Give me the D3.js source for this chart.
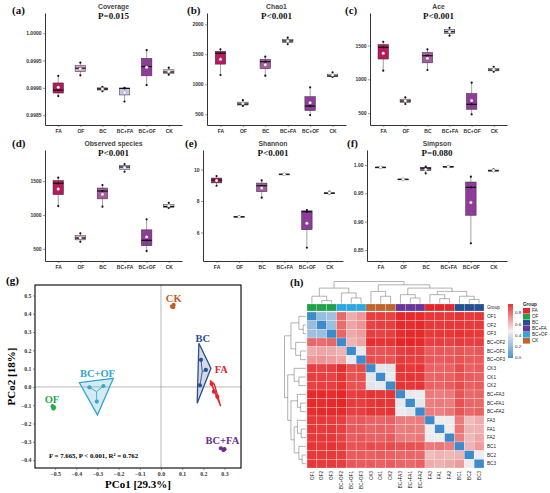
<!DOCTYPE html>
<html>
<head>
<meta charset="utf-8">
<script src="https://cdn.jsdelivr.net/npm/d3@7"></script>
<style>
body { margin: 0; background: #fff; }
</style>
</head>
<body>
<svg id="fig" width="550" height="493"></svg>
<script>
// ---- alpha diversity (three replicates per treatment, same order as groups)
var groups = ['FA', 'OF', 'BC', 'BC+FA', 'BC+OF', 'CK'];
var boxColors = ['#b8185c', '#d7a3cf', '#a65ba0', '#c9c4e6', '#8e3b99', '#e3c1dc'];

var coverage = [[0.99885, 0.99896, 0.99922], [0.99923, 0.99936, 0.99946], [0.99894, 0.99898, 0.99902],
                [0.99875, 0.99899, 0.99900], [0.99905, 0.99939, 0.99969], [0.99924, 0.99929, 0.99937]];
var chao1    = [[1155, 1517, 1583], [640, 670, 735], [1143, 1377, 1460],
                [1667, 1722, 1777], [488, 638, 950], [1122, 1138, 1200]];
var ace      = [[1127, 1473, 1556], [635, 679, 734], [1138, 1349, 1444],
                [1645, 1704, 1763], [482, 630, 950], [1112, 1138, 1186]];
var observed = [[1133, 1469, 1552], [605, 660, 729], [1123, 1355, 1444],
                [1640, 1710, 1754], [467, 626, 936], [1105, 1126, 1180]];
var shannon  = [[8.97, 9.33, 9.59], [6.97, 7.00, 7.04], [8.21, 8.97, 9.31],
                [9.68, 9.70, 9.72], [5.03, 7.32, 7.43], [8.47, 8.49, 8.60]];
var simpson  = [[0.9955, 0.9960, 0.9965], [0.9740, 0.9748, 0.9755], [0.9853, 0.9945, 0.9970],
                [0.9965, 0.9970, 0.9975], [0.8618, 0.9606, 0.9794], [0.9890, 0.9898, 0.9925]];

// ---- PCoA
var pcoGroups = ['CK', 'BC', 'FA', 'BC+OF', 'OF', 'BC+FA'];
var pcoColors = ['#c65c27', '#2c4f8b', '#e0282c', '#37a6cc', '#2ca84e', '#6b2d8f'];
var pcoPoints = [
  [[0.052, 0.440], [0.060, 0.448], [0.057, 0.436]],
  [[0.189, 0.148], [0.212, 0.093], [0.184, 0.009]],
  [[0.239, 0.016], [0.250, -0.026], [0.266, -0.053]],
  [[-0.338, -0.002], [-0.272, 0.005], [-0.303, -0.080]],
  [[-0.512, -0.105], [-0.508, -0.118], [-0.505, -0.112]],
  [[0.283, -0.335], [0.295, -0.345], [0.300, -0.340]]
];
var pcoHulls = [
  null,
  [[0.179, 0.239], [0.236, 0.102], [0.171, -0.089]],
  [[0.232, 0.035], [0.252, 0.015], [0.282, -0.105]],
  [[-0.385, 0.023], [-0.225, 0.047], [-0.300, -0.153]],
  null,
  null
];
var pcoXTicks = [-0.5, -0.4, -0.3, -0.2, -0.1, 0.0, 0.1, 0.2, 0.3];
var pcoYTicks = [-0.4, -0.3, -0.2, -0.1, 0.0, 0.1, 0.2, 0.3, 0.4, 0.5];
var pcoStats = 'F = 7.665, P < 0.001, R\u00b2 = 0.762';

// ---- Bray-Curtis heatmap (lower triangle, same order as hmLabels)
var hmLabels = ['OF1', 'OF2', 'OF3', 'BC+OF2', 'BC+OF1', 'BC+OF3', 'CK3', 'CK1', 'CK2',
                'BC+FA3', 'BC+FA1', 'BC+FA2', 'FA3', 'FA1', 'FA2', 'BC1', 'BC2', 'BC3'];
var hmLower = [
  [],
  [0.24],
  [0.26, 0.25],
  [0.80, 0.79, 0.81],
  [0.64, 0.66, 0.65, 0.62],
  [0.69, 0.70, 0.68, 0.66, 0.45],
  [0.90, 0.89, 0.90, 0.94, 0.86, 0.87],
  [0.90, 0.90, 0.89, 0.93, 0.85, 0.86, 0.44],
  [0.89, 0.90, 0.90, 0.93, 0.86, 0.85, 0.43, 0.45],
  [0.95, 0.95, 0.94, 0.96, 0.90, 0.91, 0.93, 0.92, 0.93],
  [0.95, 0.94, 0.95, 0.96, 0.91, 0.90, 0.92, 0.93, 0.92, 0.45],
  [0.94, 0.95, 0.95, 0.95, 0.90, 0.90, 0.93, 0.92, 0.93, 0.46, 0.44],
  [0.92, 0.92, 0.91, 0.90, 0.83, 0.84, 0.82, 0.81, 0.82, 0.76, 0.75, 0.76],
  [0.92, 0.91, 0.92, 0.90, 0.84, 0.83, 0.81, 0.82, 0.81, 0.75, 0.76, 0.75, 0.47],
  [0.91, 0.92, 0.92, 0.89, 0.83, 0.84, 0.82, 0.82, 0.83, 0.76, 0.75, 0.77, 0.46, 0.47],
  [0.93, 0.92, 0.93, 0.91, 0.85, 0.85, 0.87, 0.86, 0.87, 0.85, 0.86, 0.85, 0.76, 0.77, 0.75],
  [0.91, 0.91, 0.92, 0.90, 0.83, 0.83, 0.82, 0.83, 0.82, 0.80, 0.81, 0.80, 0.60, 0.62, 0.61, 0.62],
  [0.92, 0.91, 0.91, 0.90, 0.84, 0.83, 0.83, 0.82, 0.83, 0.81, 0.80, 0.82, 0.64, 0.63, 0.65, 0.68, 0.47]
];
// cluster tree: [height, left, right]
var hmTree = [1.0,
  [0.70, [0.33, 'OF1', [0.13, 'OF2', 'OF3']], [0.48, 'BC+OF2', [0.25, 'BC+OF1', 'BC+OF3']]],
  [0.85, [0.55, 'CK3', [0.33, 'CK1', 'CK2']],
         [0.70, [0.40, 'BC+FA3', [0.25, 'BC+FA1', 'BC+FA2']],
                [0.55, [0.40, 'FA3', [0.22, 'FA1', 'FA2']], [0.33, 'BC1', [0.18, 'BC2', 'BC3']]]]]];
var legendGroups = ['FA', 'OF', 'BC', 'BC+FA', 'BC+OF', 'CK'];
var legendColors = ['#e2262b', '#1fa24a', '#284f8f', '#6b3497', '#2aa9df', '#c0632c'];
var legendTicks = [0.0, 0.2, 0.4, 0.6, 0.8];

var SANS = 'Liberation Sans, Arial, sans-serif';
var SERIF = 'Liberation Serif, Times New Roman, serif';
var svg = d3.select('#fig');

// ================= boxplot panels =================
var panels = [
  { tag: '(a)', tagX: 12, tagY: 14, name: 'Coverage', p: 'P=0.015', vals: coverage,
    dom: [0.99832, 1.00037], ticks: [0.9985, 0.999, 0.9995, 1.0], fmt: '.4f', x0: 45, x1: 182, top: 13, bot: 125 },
  { tag: '(b)', tagX: 187, tagY: 14, name: 'Chao1', p: 'P<0.001', vals: chao1,
    dom: [322, 2188], ticks: [500, 1000, 1500, 2000], fmt: 'd', x0: 207, x1: 346, top: 13, bot: 125 },
  { tag: '(c)', tagX: 345, tagY: 14, name: 'Ace', p: 'P<0.001', vals: ace,
    dom: [324, 1981], ticks: [500, 1000, 1500], fmt: 'd', x0: 370, x1: 507, top: 13, bot: 125 },
  { tag: '(d)', tagX: 12, tagY: 147, name: 'Observed species', p: 'P<0.001', vals: observed,
    dom: [320, 1962], ticks: [500, 1000, 1500], fmt: 'd', x0: 45, x1: 182, top: 150, bot: 261 },
  { tag: '(e)', tagX: 185, tagY: 147, name: 'Shannon', p: 'P<0.001', vals: shannon,
    dom: [4.19, 11.24], ticks: [6, 8, 10], fmt: 'd', x0: 203, x1: 343, top: 150, bot: 261 },
  { tag: '(f)', tagX: 347, tagY: 147, name: 'Simpson', p: 'P=0.080', vals: simpson,
    dom: [0.8306, 1.0265], ticks: [0.85, 0.9, 0.95, 1.0], fmt: '.2f', x0: 367, x1: 507, top: 150, bot: 261 }
];

function styleAxis(ax, size, family) {
  ax.select('.domain').attr('stroke', '#000').attr('stroke-width', 0.8);
  ax.selectAll('.tick line').attr('stroke', '#333').attr('stroke-width', 0.5);
  ax.selectAll('.tick text').attr('font-size', size).attr('font-family', family)
    .attr('font-weight', 'bold').attr('fill', '#333');
}

panels.forEach(function (p) {
  var g = svg.append('g');
  var x = d3.scalePoint().domain(groups).range([p.x0, p.x1]).padding(0.6);
  var y = d3.scaleLinear().domain(p.dom).range([p.bot, p.top]);

  var ay = g.append('g').attr('transform', 'translate(' + p.x0 + ',0)')
    .call(d3.axisLeft(y).tickValues(p.ticks).tickFormat(d3.format(p.fmt)).tickSize(2).tickSizeOuter(0).tickPadding(1.5));
  styleAxis(ay, 5, SANS);
  var ax = g.append('g').attr('transform', 'translate(0,' + p.bot + ')')
    .call(d3.axisBottom(x).tickSize(2).tickSizeOuter(0).tickPadding(2));
  styleAxis(ax, 5, SANS);

  p.vals.forEach(function (v, i) {
    var s = v.slice().sort(d3.ascending);
    var q1 = d3.quantile(s, 0.25), md = d3.quantile(s, 0.5), q3 = d3.quantile(s, 0.75);
    var mn = d3.mean(s);
    var cx = x(groups[i]), w = 10.5;
    g.append('line').attr('x1', cx).attr('x2', cx).attr('y1', y(s[0])).attr('y2', y(s[s.length - 1]))
      .attr('stroke', '#777').attr('stroke-width', 0.7);
    g.append('rect').attr('x', cx - w / 2).attr('width', w)
      .attr('y', y(q3)).attr('height', Math.max(0.8, y(q1) - y(q3)))
      .attr('fill', boxColors[i]).attr('stroke', '#333').attr('stroke-width', 0.5);
    g.append('line').attr('x1', cx - w / 2).attr('x2', cx + w / 2).attr('y1', y(md)).attr('y2', y(md))
      .attr('stroke', '#111').attr('stroke-width', 1.2);
    s.forEach(function (d) {
      g.append('circle').attr('cx', cx).attr('cy', y(d)).attr('r', 1.1).attr('fill', '#111');
    });
    g.append('circle').attr('cx', cx).attr('cy', y(mn)).attr('r', 1.5)
      .attr('fill', '#fff').attr('stroke', '#888').attr('stroke-width', 0.3);
  });

  var mid = (p.x0 + p.x1) / 2;
  g.append('text').attr('x', mid).attr('y', p.top - 4).attr('text-anchor', 'middle')
    .attr('font-family', SANS).attr('font-weight', 'bold').attr('font-size', 6.8).attr('fill', '#444').text(p.name);
  g.append('text').attr('x', mid).attr('y', p.top + 6).attr('text-anchor', 'middle')
    .attr('font-family', SERIF).attr('font-weight', 'bold').attr('font-size', 9).attr('fill', '#111').text(p.p);
  g.append('text').attr('x', p.tagX).attr('y', p.tagY)
    .attr('font-family', SERIF).attr('font-weight', 'bold').attr('font-size', 11).attr('fill', '#111').text(p.tag);
});

// ================= PCoA =================
(function () {
  var L = 35, R = 241, T = 285, B = 468;
  var g = svg.append('g');
  var x = d3.scaleLinear().domain([-0.595, 0.378]).range([L, R]);
  var y = d3.scaleLinear().domain([-0.443, 0.557]).range([B, T]);

  g.append('line').attr('x1', x(0)).attr('x2', x(0)).attr('y1', T).attr('y2', B).attr('stroke', '#888').attr('stroke-width', 0.6);
  g.append('line').attr('x1', L).attr('x2', R).attr('y1', y(0)).attr('y2', y(0)).attr('stroke', '#888').attr('stroke-width', 0.6);

  pcoGroups.forEach(function (name, i) {
    var col = pcoColors[i], pts = pcoPoints[i];
    if (pcoHulls[i]) {
      g.append('path').attr('d', d3.line().x(function (d) { return x(d[0]); }).y(function (d) { return y(d[1]); })(pcoHulls[i]) + 'Z')
        .attr('fill', col).attr('fill-opacity', 0.22).attr('stroke', col).attr('stroke-width', 1.3)
        .attr('stroke-linejoin', 'miter');
    }
    var c = [d3.mean(pts, function (d) { return d[0]; }), d3.mean(pts, function (d) { return d[1]; })];
    pts.forEach(function (d) {
      g.append('line').attr('x1', x(c[0])).attr('y1', y(c[1])).attr('x2', x(d[0])).attr('y2', y(d[1]))
        .attr('stroke', col).attr('stroke-width', 0.9);
    });
    pts.forEach(function (d) {
      g.append('circle').attr('cx', x(d[0])).attr('cy', y(d[1])).attr('r', 2.1).attr('fill', col);
    });
  });

  // group labels
  var labelAt = [[0.060, 0.485], [0.197, 0.265], [0.285, 0.095], [-0.300, 0.072], [-0.515, -0.065], [0.290, -0.292]];
  pcoGroups.forEach(function (name, i) {
    g.append('text').attr('x', x(labelAt[i][0])).attr('y', y(labelAt[i][1])).attr('dy', '0.35em')
      .attr('text-anchor', 'middle').attr('font-family', SERIF).attr('font-weight', 'bold')
      .attr('font-size', 10.5).attr('fill', pcoColors[i]).text(name);
  });

  g.append('rect').attr('x', L).attr('y', T).attr('width', R - L).attr('height', B - T)
    .attr('fill', 'none').attr('stroke', '#000').attr('stroke-width', 1.1);

  var ax = g.append('g').attr('transform', 'translate(0,' + B + ')')
    .call(d3.axisBottom(x).tickValues(pcoXTicks).tickFormat(d3.format('.1f')).tickSize(2).tickSizeOuter(0).tickPadding(1.5));
  styleAxis(ax, 5.8, SERIF);
  ax.select('.domain').remove();
  var ay = g.append('g').attr('transform', 'translate(' + L + ',0)')
    .call(d3.axisLeft(y).tickValues(pcoYTicks).tickFormat(d3.format('.1f')).tickSize(2).tickSizeOuter(0).tickPadding(1.5));
  styleAxis(ay, 5.8, SERIF);
  ay.select('.domain').remove();

  g.append('text').attr('x', (L + R) / 2).attr('y', 488).attr('text-anchor', 'middle')
    .attr('font-family', SERIF).attr('font-weight', 'bold').attr('font-size', 11).text('PCo1 [29.3%]');
  g.append('text').attr('transform', 'translate(15,' + ((T + B) / 2) + ') rotate(-90)').attr('text-anchor', 'middle')
    .attr('font-family', SERIF).attr('font-weight', 'bold').attr('font-size', 11).text('PCo2 [18%]');
  g.append('text').attr('x', 49).attr('y', 458).attr('font-family', SERIF).attr('font-weight', 'bold')
    .attr('font-size', 6.8).text(pcoStats);
  g.append('text').attr('x', 6).attr('y', 284).attr('font-family', SERIF).attr('font-weight', 'bold')
    .attr('font-size', 11).text('(g)');
})();

// ================= heatmap =================
(function () {
  var L = 307, R = 484, T = 312, B = 468;
  var g = svg.append('g');
  var n = hmLabels.length;
  var dist = hmLabels.map(function (a, i) {
    return hmLabels.map(function (b, j) {
      if (i === j) return 0;
      return i > j ? hmLower[i][j] : hmLower[j][i];
    });
  });
  var xb = d3.scaleBand().domain(hmLabels).range([L, R]);
  var yb = d3.scaleBand().domain(hmLabels).range([T, B]);
  var color = d3.scaleLinear().domain([0, 0.48, 0.96]).range(['#3d8bcb', '#f2efef', '#e52628']);
  var groupOf = function (lab) { return lab.replace(/\d$/, ''); };

  dist.forEach(function (row, i) {
    row.forEach(function (v, j) {
      g.append('rect').attr('x', xb(hmLabels[j])).attr('y', yb(hmLabels[i]))
        .attr('width', xb.bandwidth()).attr('height', yb.bandwidth())
        .attr('fill', color(v)).attr('stroke', 'rgba(255,255,255,0.45)').attr('stroke-width', 0.5);
    });
  });

  // group annotation bar
  hmLabels.forEach(function (lab) {
    g.append('rect').attr('x', xb(lab)).attr('y', 304).attr('width', xb.bandwidth()).attr('height', 7)
      .attr('fill', legendColors[legendGroups.indexOf(groupOf(lab))])
      .attr('stroke', 'rgba(255,255,255,0.5)').attr('stroke-width', 0.4);
  });
  g.append('text').attr('x', R + 3).attr('y', 307.5).attr('dy', '0.35em').attr('font-family', SANS)
    .attr('font-size', 4.6).attr('fill', '#222').text('Group');

  // row / column labels
  hmLabels.forEach(function (lab) {
    g.append('text').attr('x', R + 3).attr('y', yb(lab) + yb.bandwidth() / 2).attr('dy', '0.35em')
      .attr('font-family', SANS).attr('font-size', 4.6).attr('fill', '#222').text(lab);
    var cx = xb(lab) + xb.bandwidth() / 2;
    g.append('text').attr('transform', 'translate(' + cx + ',' + (B + 3) + ') rotate(-90)')
      .attr('text-anchor', 'end').attr('dy', '0.35em')
      .attr('font-family', SANS).attr('font-size', 4.6).attr('fill', '#222').text(lab);
  });

  // dendrograms
  var idx = {};
  hmLabels.forEach(function (l, i) { idx[l] = i; });
  var pos = d3.scaleLinear().domain([-0.5, n - 0.5]);
  var topH = d3.scaleLinear().domain([0, 1]).range([303.5, 281.5]);
  var leftH = d3.scaleLinear().domain([0, 1]).range([306, 284.5]);
  var colPos = pos.copy().range([L, R]), rowPos = pos.copy().range([T, B]);
  function walk(node, draw) {
    if (typeof node === 'string') return { p: idx[node], h: 0 };
    var a = walk(node[1], draw), b = walk(node[2], draw);
    draw(a, b, node[0]);
    return { p: (a.p + b.p) / 2, h: node[0] };
  }
  walk(hmTree, function (a, b, h) {
    g.append('path').attr('d', 'M' + colPos(a.p) + ',' + topH(a.h) + 'V' + topH(h) + 'H' + colPos(b.p) + 'V' + topH(b.h))
      .attr('fill', 'none').attr('stroke', '#555').attr('stroke-width', 0.45);
  });
  walk(hmTree, function (a, b, h) {
    g.append('path').attr('d', 'M' + leftH(a.h) + ',' + rowPos(a.p) + 'H' + leftH(h) + 'V' + rowPos(b.p) + 'H' + leftH(b.h))
      .attr('fill', 'none').attr('stroke', '#555').attr('stroke-width', 0.45);
  });

  // colour bar
  var cb = d3.scaleLinear().domain([0, 0.96]).range([357.7, 304]);
  d3.range(0, 0.96, 0.01).forEach(function (v) {
    g.append('rect').attr('x', 508).attr('width', 5).attr('y', cb(v + 0.01)).attr('height', cb(v) - cb(v + 0.01) + 0.3)
      .attr('fill', color(v + 0.005));
  });
  legendTicks.forEach(function (t) {
    g.append('text').attr('x', 515).attr('y', cb(t)).attr('dy', '0.35em').attr('font-family', SANS)
      .attr('font-size', 4.4).attr('fill', '#222').text(d3.format('.1f')(t));
  });

  // group legend
  g.append('text').attr('x', 523).attr('y', 306).attr('font-family', SANS).attr('font-size', 4.6)
    .attr('font-weight', 'bold').attr('fill', '#222').text('Group');
  legendGroups.forEach(function (name, i) {
    g.append('rect').attr('x', 523).attr('y', 308 + i * 6).attr('width', 7).attr('height', 5.6)
      .attr('fill', legendColors[i]);
    g.append('text').attr('x', 532).attr('y', 310.8 + i * 6).attr('dy', '0.35em').attr('font-family', SANS)
      .attr('font-size', 4.6).attr('fill', '#222').text(name);
  });

  g.append('text').attr('x', 290).attr('y', 286).attr('font-family', SERIF).attr('font-weight', 'bold')
    .attr('font-size', 11).attr('fill', '#111').text('(h)');
})();
</script>
</body>
</html>
